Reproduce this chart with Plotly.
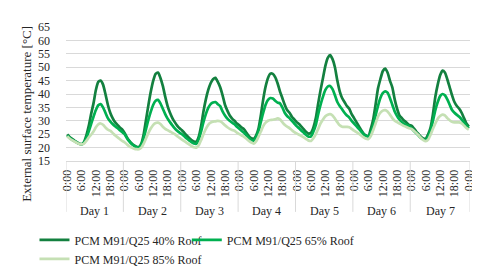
import plotly.graph_objects as go

# ---- data (hourly, Day 1 0:00 ... Day 8 0:00) ----
days = ["Day 1", "Day 2", "Day 3", "Day 4", "Day 5", "Day 6", "Day 7"]
hour_labels = ["0:00", "6:00", "12:00", "18:00"]
series_names = ["PCM M91/Q25 40% Roof", "PCM M91/Q25 65% Roof", "PCM M91/Q25 85% Roof"]

roof40 = [
    24.9, 24.0, 23.3, 22.6, 22.0, 21.5, 21.2, 22.0, 24.5, 28.0, 32.5, 36.5, 41.5, 44.5, 45.0, 43.5, 40.0, 36.0, 33.0, 31.0, 29.5, 28.5, 27.5, 26.8,
    25.5, 23.8, 22.5, 21.5, 20.8, 20.3, 20.2, 21.5, 25.0, 30.5, 36.0, 41.0, 45.0, 47.5, 48.0, 46.0, 43.0, 39.0, 35.5, 33.0, 31.0, 29.5, 28.2, 27.2,
    26.5, 25.5, 24.5, 23.6, 22.8, 22.3, 22.2, 24.0, 28.0, 33.5, 38.0, 41.5, 44.0, 45.5, 46.0, 44.5, 42.5, 39.5, 36.0, 33.8, 32.0, 30.8, 30.0, 29.0,
    28.3, 27.5, 26.8, 25.5, 24.3, 23.5, 23.3, 24.5, 27.0, 32.0, 38.0, 42.8, 46.0, 47.6, 47.5, 46.3, 44.0, 41.0, 38.5, 36.0, 34.0, 33.0, 31.5, 30.5,
    29.5, 28.8, 27.8, 26.8, 25.8, 25.2, 25.5, 27.5, 31.0, 36.5, 41.5, 46.0, 50.5, 53.5, 54.5, 53.0, 50.0, 45.0, 41.0, 38.5, 37.0, 35.5, 34.5, 32.5,
    31.0, 29.5, 28.0, 26.5, 25.2, 24.5, 24.3, 27.0, 30.5, 36.0, 42.0, 45.5, 48.5, 49.5, 48.0, 45.0, 42.5, 38.0, 34.5, 32.0, 31.0, 30.0, 29.3, 28.5,
    28.2, 27.2, 26.0, 25.0, 24.0, 23.4, 23.3, 25.0, 27.5, 32.5, 39.0, 43.5, 47.0, 48.7, 48.0, 45.5, 42.5, 39.5, 37.0, 35.5, 34.5, 33.0, 31.0, 29.0, 27.8,
]
roof65 = [
    24.5, 23.7, 23.0, 22.4, 21.9, 21.4, 21.2, 21.8, 23.5, 26.0, 28.8, 31.5, 34.0, 35.8, 36.2, 35.0, 33.0, 31.0, 29.8, 28.8, 28.0, 27.3, 26.5, 25.8,
    25.0, 23.5, 22.3, 21.3, 20.6, 20.1, 20.0, 21.0, 23.5, 27.0, 30.5, 33.5, 36.0, 37.5, 37.8, 36.5, 34.5, 32.5, 30.8, 29.5, 28.3, 27.2, 26.3, 25.6,
    25.0, 24.2, 23.4, 22.7, 22.0, 21.5, 21.4, 23.0, 26.0, 29.5, 32.5, 34.8, 36.2, 36.8, 37.0, 36.2, 35.5, 33.5, 32.0, 30.8, 30.0, 29.3, 28.7, 27.8,
    27.0, 26.2, 25.5, 24.5, 23.5, 22.8, 22.6, 23.8, 26.0, 29.5, 33.0, 36.0, 37.8, 38.5, 38.3, 37.5, 36.8, 36.5, 35.0, 33.0, 31.8, 31.0, 30.0, 29.0,
    28.0, 27.2, 26.3, 25.5, 24.7, 24.1, 24.2, 26.0, 28.5, 32.5, 36.0, 39.0, 41.5, 42.8, 43.0, 41.8, 39.5, 37.0, 35.5, 34.3, 33.0, 32.0, 31.2, 30.0,
    29.0, 28.0, 27.0, 26.0, 25.0, 24.3, 24.2, 25.5, 28.0, 32.0, 35.5, 38.5, 40.3, 41.0, 40.5, 38.5, 36.0, 33.5, 31.8, 30.5, 29.5, 28.8, 28.4, 28.0,
    27.2, 26.3, 25.4, 24.5, 23.6, 23.0, 22.8, 24.0, 26.5, 30.0, 34.0, 37.0, 39.2, 40.0, 39.5, 38.0, 36.0, 34.0, 33.0, 32.2, 31.5, 30.5, 29.3, 28.2, 27.2,
]
roof85 = [
    24.2, 23.4, 22.8, 22.3, 21.8, 21.4, 21.2, 21.5, 22.5, 23.8, 24.8, 26.0, 27.6, 28.7, 29.0, 28.5, 27.5, 26.7, 26.3, 25.5, 24.6, 23.9, 23.2, 22.5,
    22.0, 21.2, 20.5, 20.0, 19.6, 19.4, 19.4, 20.0, 21.5, 23.5, 25.5, 27.2, 28.5, 29.2, 29.3, 28.8, 27.8, 27.0, 26.5, 26.0, 25.5, 25.0, 24.3, 23.6,
    23.0, 22.4, 21.8, 21.2, 20.6, 20.1, 20.0, 20.8, 22.8, 25.0, 27.0, 28.5, 29.3, 29.7, 29.8, 30.0, 29.8, 29.2, 28.3, 27.6, 27.0, 26.6, 26.3, 25.6,
    25.0, 24.5, 24.0, 23.3, 22.5, 21.9, 21.5, 22.3, 24.0, 26.0, 28.0, 29.3, 30.0, 30.3, 30.4, 30.6, 30.9, 30.5, 29.5, 28.5, 27.8, 27.3, 26.5, 25.8,
    25.3, 24.8, 24.3, 23.8, 23.2, 22.6, 22.5, 23.5, 25.0, 27.0, 29.0, 30.5, 31.7, 32.3, 32.5, 32.0, 30.8, 29.5, 28.3, 27.8, 27.7, 27.7, 27.6, 27.0,
    26.3, 25.8, 25.2, 24.5, 23.8, 23.3, 23.2, 24.3, 26.5, 29.0, 31.5, 33.0, 33.8, 34.0, 33.5, 32.3, 31.0, 30.0, 29.5, 29.0, 28.5, 28.0, 27.6, 27.2,
    27.0, 26.3, 25.5, 24.6, 23.6, 22.8, 22.4, 23.0, 24.8, 27.0, 29.0, 30.8, 31.8, 32.3, 32.0, 31.0, 30.2, 29.6, 29.4, 29.4, 29.4, 29.0, 28.2, 27.3, 26.7,
]
assert len(roof40) == len(roof65) == len(roof85) == 169

hours = list(range(len(roof40)))
colors = ["#13803f", "#00b050", "#c5e0b4"]
legend_ids = ["legend", "legend2", "legend"]
FONT = "Liberation Serif"
TXT = "#262626"

fig = go.Figure()
for name, vals, col, lg in zip(series_names, [roof40, roof65, roof85], colors, legend_ids):
    fig.add_trace(go.Scatter(x=hours, y=vals, mode="lines", name=name, legend=lg,
                             line=dict(color=col, width=2.7, shape="spline", smoothing=0.6)))

tickvals = []
ticktext = []
for d in range(len(days)):
    for k, lab in enumerate(hour_labels):
        tickvals.append(d * 24 + k * 6)
        ticktext.append(lab)
tickvals.append(len(days) * 24)
ticktext.append("0:00")

shapes = []
bounds = [-0.5] + [d * 24 + 23.5 for d in range(len(days) - 1)] + [len(hours) - 0.5]
for b in bounds:
    shapes.append(dict(type="line", xref="x", yref="paper", x0=b, x1=b, y0=0, y1=-0.38,
                       line=dict(color="#d9d9d9", width=1)))

annotations = []
for d, name in enumerate(days):
    annotations.append(dict(x=(bounds[d] + bounds[d + 1]) / 2, y=-0.375, xref="x", yref="paper",
                            text=name, showarrow=False, yanchor="middle",
                            font=dict(family=FONT, size=12, color=TXT)))
annotations.append(dict(x=-0.098, y=0.355, xref="paper", yref="paper",
                        text="External surface temperature [°C]", textangle=-90,
                        showarrow=False, xanchor="center", yanchor="middle",
                        font=dict(family=FONT, size=13, color=TXT)))

legend_common = dict(orientation="v", yanchor="top", xanchor="left", tracegroupgap=0,
                     font=dict(family=FONT, size=12, color=TXT), bgcolor="rgba(0,0,0,0)")
fig.update_layout(
    width=480, height=278,
    margin=dict(l=58, r=14, t=15, b=113),
    plot_bgcolor="white", paper_bgcolor="white",
    font=dict(family=FONT, size=12, color=TXT),
    shapes=shapes, annotations=annotations,
    legend=dict(x=-0.078, y=-0.48, **legend_common),
    legend2=dict(x=0.299, y=-0.48, **legend_common),
)
fig.update_xaxes(range=[-0.5, len(hours) - 0.5], tickvals=tickvals, ticktext=ticktext,
                 tickangle=-90, showgrid=False, zeroline=False, showline=True,
                 linecolor="#d9d9d9", linewidth=1, ticks="", ticklabelstandoff=3,
                 tickfont=dict(family=FONT, size=12, color=TXT))
fig.update_yaxes(range=[15, 65], dtick=5, showgrid=True, gridcolor="#d9d9d9", gridwidth=1,
                 zeroline=False, showline=False, ticks="", ticklabelstandoff=15,
                 tickfont=dict(family=FONT, size=12, color=TXT))

fig.write_html("out.html")
